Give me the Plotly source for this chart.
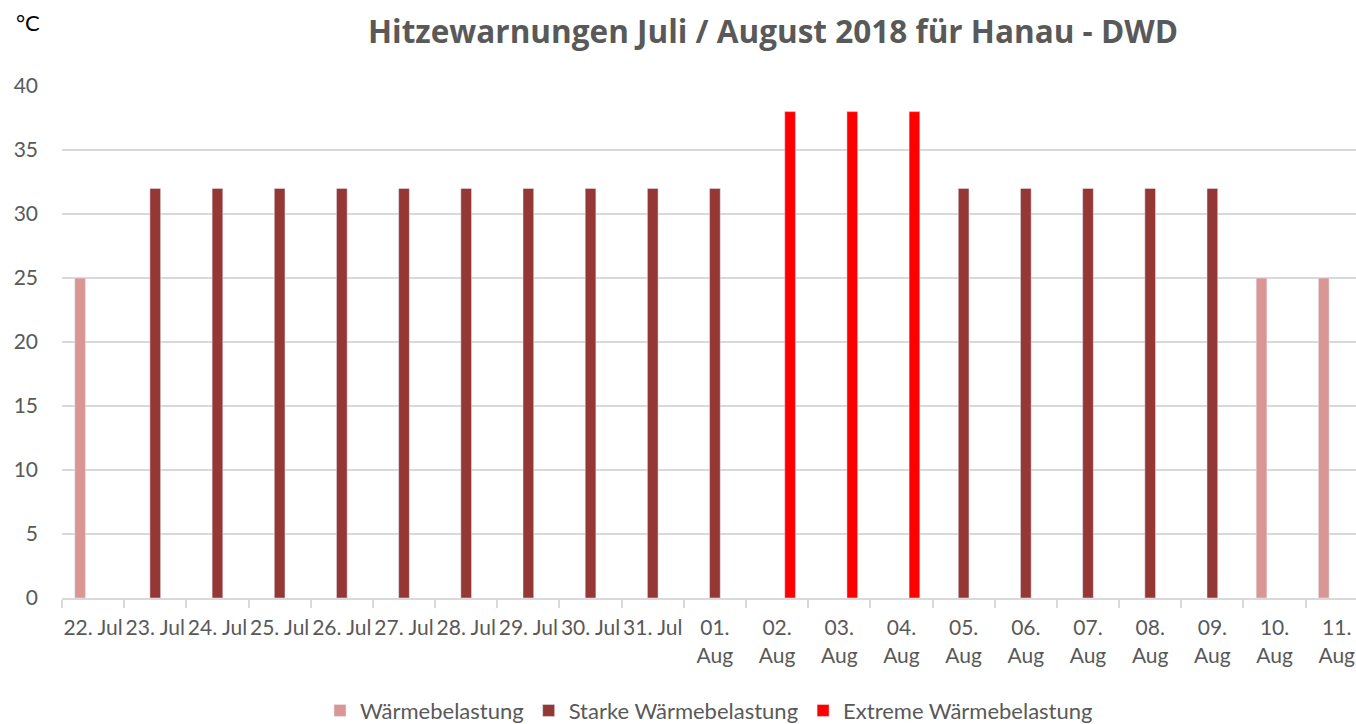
import plotly.graph_objects as go

categories = ["22. Jul", "23. Jul", "24. Jul", "25. Jul", "26. Jul", "27. Jul", "28. Jul",
              "29. Jul", "30. Jul", "31. Jul", "01.<br>Aug", "02.<br>Aug", "03.<br>Aug",
              "04.<br>Aug", "05.<br>Aug", "06.<br>Aug", "07.<br>Aug", "08.<br>Aug",
              "09.<br>Aug", "10.<br>Aug", "11.<br>Aug"]
waerme = [25, None, None, None, None, None, None, None, None, None, None, None, None,
          None, None, None, None, None, None, 25, 25]
starke = [None, 32, 32, 32, 32, 32, 32, 32, 32, 32, 32, None, None, None, 32, 32, 32, 32, 32, None, None]
extreme = [None, None, None, None, None, None, None, None, None, None, None, 38, 38, 38,
           None, None, None, None, None, None, None]

FONT = "Lato"
GREY = "#595959"

fig = go.Figure()
fig.add_trace(go.Bar(x=categories, y=waerme, name="Wärmebelastung", marker_color="#DA9694",
                     legendgroup="a"))
fig.add_trace(go.Bar(x=categories, y=starke, name="Starke Wärmebelastung", marker_color="#953735",
                     legendgroup="b"))
fig.add_trace(go.Bar(x=categories, y=extreme, name="Extreme Wärmebelastung", marker_color="#FF0000",
                     legendgroup="c"))

fig.update_layout(
    width=1356, height=724,
    barmode="group", bargap=0.373, bargroupgap=0.177,
    plot_bgcolor="white", paper_bgcolor="white",
    margin=dict(l=62, r=0, t=86, b=126, autoexpand=False),
    font=dict(family=FONT, size=21, color=GREY),
    title=dict(text="<b>Hitzewarnungen Juli / August 2018 für Hanau - DWD</b>",
               x=773 / 1356, xanchor="center", y=1 - 32 / 724, yanchor="middle",
               font=dict(size=31.5, color=GREY, family="Open Sans"), automargin=False),
    legend=dict(orientation="h", x=0.5, xanchor="center", y=-0.22, yanchor="middle",
                font=dict(size=22, color=GREY), itemwidth=30, traceorder="grouped",
                tracegroupgap=24),
    showlegend=True,
)
fig.update_xaxes(type="category", range=[-0.5, 20.31], showline=True, linecolor="#D9D9D9",
                 linewidth=2, ticks="outside", tickson="boundaries", ticklen=8,
                 tickcolor="#D9D9D9", tickwidth=2, showgrid=False, automargin=False,
                 tickfont=dict(size=21, color=GREY), tickangle=0, ticklabelstandoff=10)
fig.update_yaxes(range=[0, 40], dtick=5, showgrid=True, gridcolor="#D9D9D9", gridwidth=2,
                 zeroline=False, ticks="", tickfont=dict(size=21, color=GREY),
                 ticklabelstandoff=23, automargin=False)
fig.add_annotation(text="°C", xref="paper", yref="paper", x=-0.026, y=1.125,
                   xanchor="center", yanchor="middle", showarrow=False,
                   font=dict(size=22, color="black", family=FONT))

fig.write_html("out.html", config={"displayModeBar": False},
               post_script="document.body.style.margin='0';document.body.style.overflow='hidden';")
